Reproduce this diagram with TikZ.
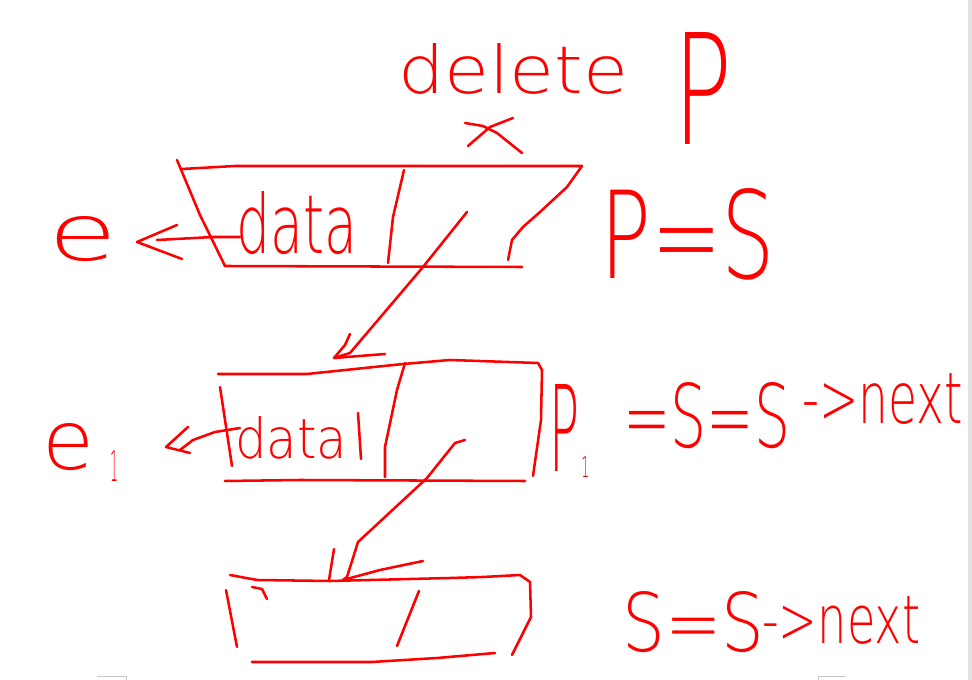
\documentclass[tikz,border=0pt]{standalone}
\usepackage{fontspec}
\usepackage{graphicx}
\newfontfamily\handfont{DejaVu Sans ExtraLight}
\newlength\hpx
\setlength\hpx{0.75pt}
\newcommand\hwtxt[3]{\resizebox{#1\hpx}{#2\hpx}{\handfont #3}}
\definecolor{inkred}{RGB}{255,0,0}
\definecolor{uigray}{RGB}{226,226,226}
\tikzset{
  pen/.style={draw=inkred, line width=1.9pt, line cap=round, line join=round},
  txt/.style={inner sep=0pt, anchor=south west, text=inkred},
}
\begin{document}
\begin{tikzpicture}[x=0.75pt,y=-0.75pt]
\useasboundingbox (0,0) rectangle (972,680);
\fill[white] (0,0) rectangle (972,680);
% window artefacts
\fill[uigray] (968,0) rectangle (972,680);
\draw[gray!45, line width=0.75pt] (97,676.5) -- (126,676.5) -- (126,680);
\draw[gray!45, line width=0.75pt] (818,680) -- (818,676.5) -- (846,676.5);

% ---------- texts ----------
\node[txt] (del) at (398,95) {\hwtxt{230}{50}{delete}};
\node[txt] (ptop) at (673,145) {\hwtxt{59}{112}{P}};
\node[txt] (e0) at (48,262) {\hwtxt{69}{44}{e}};
\node[txt] (data1) at (236,255) {\hwtxt{121}{62}{data}};
\node[txt] (peqs) at (600,280) {\hwtxt{175}{90}{P=S}};
\node[txt] (e1) at (42,471) {\hwtxt{52}{46}{e}};
\node[txt] (e1sub) at (110,482) {\hwtxt{8}{31}{1}};
\node[txt] (data2) at (235,460) {\hwtxt{112}{42}{data}};
\node[txt] (p1) at (549,472) {\hwtxt{30}{87}{P}};
\node[txt] (p1sub) at (581,478) {\hwtxt{8}{21}{1}};
\node[txt] (eqss) at (623,449) {\hwtxt{167}{65}{=S=S}};
\node[txt] (nextA) at (802,425) {\hwtxt{161}{50}{->next}};
\node[txt] (sS) at (622,653) {\hwtxt{142}{60}{S=S}};
\node[txt] (nextB) at (762,645) {\hwtxt{158}{47}{->next}};

% cross mark under "delete"
\draw[pen] (513,118) -- (490,127) -- (468,146);
\draw[pen] (465,123) -- (483,126) -- (497,133) -- (522,153);

% ---------- node 1 ----------
\coordinate (n1next) at (467,212);
\coordinate (n1data) at (240,237);
\draw[pen] (177,160) -- (200,215) -- (225,266) -- (522,267);
\draw[pen] (182,169) -- (235,166) -- (582,166) -- (567,187) -- (540,212)
           -- (523,227) -- (512,240) -- (508,260);
\draw[pen] (404,170) -- (393,217) -- (388,263);

% ---------- node 2 ----------
\coordinate (n2in) at (334,358);
\coordinate (n2next) at (465,440);
\coordinate (n2data) at (240,428);
\draw[pen] (218,374) -- (307,374) -- (403,364) -- (450,360) -- (538,363)
           -- (542,370) -- (541,420) -- (533,476);
\draw[pen] (220,387) -- (232,466);
\draw[pen] (225,481) -- (300,480) -- (525,481);
\draw[pen] (405,363) -- (397,390) -- (385,447) -- (385,477);
\draw[pen] (358,413) -- (361,459);

% ---------- node 3 ----------
\coordinate (n3in) at (343,580);
\draw[pen] (230,575) -- (257,580) -- (330,581) -- (450,578) -- (483,577)
           -- (520,575) -- (530,582) -- (531,617) -- (512,655);
\draw[pen] (226,590) -- (237,647);
\draw[pen] (252,587) -- (262,589) -- (267,599);
\draw[pen] (419,591) -- (397,646);
\draw[pen] (252,662) -- (372,662) -- (437,658) -- (495,653);

% ---------- left pointers ----------
\coordinate (e0tip) at (137,242);
\draw[pen] (n1data) -- (213,237) -- (157,240);
\draw[pen] (177,225) -- (e0tip) -- (182,259);
\coordinate (e1tip) at (166,447);
\draw[pen] (n2data) -- (215,432) -- (193,440) -- (180,450);
\draw[pen] (188,427) -- (e1tip) -- (190,453);

% ---------- next pointers ----------
\draw[pen] (n1next) -- (423,267) -- (350,353) -- (n2in);
\draw[pen] (350,334) -- (345,345) -- (n2in) -- (385,354);
\draw[pen] (n2next) -- (455,443) -- (427,478) -- (358,542) -- (347,577) -- (n3in);
\draw[pen] (334,549) -- (329,580);
\draw[pen] (n3in) -- (380,570) -- (423,561);
\end{tikzpicture}
\end{document}
